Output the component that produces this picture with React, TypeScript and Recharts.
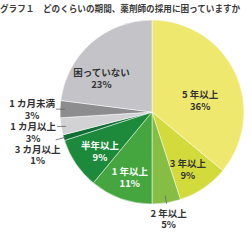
import React from "react";
import { PieChart, Pie, Cell } from "recharts";

const categories = ["5年以上", "3年以上", "2年以上", "1年以上", "半年以上", "3カ月以上", "1カ月以上", "1カ月未満", "困っていない"];
const shares = [36, 9, 5, 11, 9, 1, 3, 3, 23];
const labelTexts = ["5 年以上", "3 年以上", "2 年以上", "1 年以上", "半年以上", "3 カ月以上", "1 カ月以上", "1 カ月未満", "困っていない"];
const title = "グラフ１　どのくらいの期間、薬剤師の採用に困っていますか";

const colors = ["#efe86e", "#d3db3c", "#85bd45", "#45a63f", "#1d8a3b", "#0f6e33", "#d2d2d4", "#8d8d8f", "#c4c3c8"];
const textColors = ["#333", "#333", "#333", "#fff", "#fff", "#333", "#333", "#333", "#333"];

const data = categories.map((name, i) => ({ name, value: shares[i], label: labelTexts[i] }));

const FONT = "'Noto Sans CJK JP', 'Noto Sans', sans-serif";
const RAD = Math.PI / 180;

const placement: any[] = [
  { kind: "in", da: -11, r: 0.54 },
  { kind: "in", da: -2, r: 0.73 },
  { kind: "below", r0: 0.92, r1: 1.01 },
  { kind: "in", da: 1, r: 0.75 },
  { kind: "in", da: 3, r: 0.71 },
  { kind: "diag", r0: 0.98, r1: 1.09 },
  { kind: "side", first: true },
  { kind: "side", first: false },
  { kind: "in", da: 15, r: 0.66 },
];

const TwoLine = ({ x, y, gap, a, b, fill }: any) => (
  <text x={x} y={y} fontFamily={FONT} fontSize={9.5} fontWeight={700} fill={fill} textAnchor="middle" dominantBaseline="central">
    <tspan x={x} y={y}>{a}</tspan>
    <tspan x={x} y={y + gap}>{b}</tspan>
  </text>
);

const renderLabel = (props: any) => {
  const { cx, cy, midAngle, outerRadius, index, payload } = props;
  const p = placement[index];
  const txt = payload.label ?? labelTexts[index];
  const pct = `${shares[index]}%`;
  const fill = textColors[index];
  const pt = (a: number, r: number) => [cx + r * Math.cos(-a * RAD), cy + r * Math.sin(-a * RAD)];
  if (p.kind === "in") {
    const [x, y] = pt(midAngle + p.da, outerRadius * p.r);
    return <TwoLine key={`l${index}`} x={x} y={y - 6} gap={12} a={txt} b={pct} fill={fill} />;
  }
  if (p.kind === "below") {
    const [x0, y0] = pt(midAngle, outerRadius * p.r0);
    const [x1, y1] = pt(midAngle, outerRadius * p.r1);
    return (
      <g key={`l${index}`}>
        <line x1={x0} y1={y0} x2={x1} y2={y1} stroke="#666" strokeWidth={0.8} />
        <TwoLine x={x1 + 2} y={y1 + 9} gap={11.5} a={txt} b={pct} fill={fill} />
      </g>
    );
  }
  if (p.kind === "diag") {
    const [x0, y0] = pt(midAngle, outerRadius * p.r0);
    const [x1, y1] = pt(midAngle, outerRadius * p.r1);
    return (
      <g key={`l${index}`}>
        <line x1={x0} y1={y0} x2={x1} y2={y1} stroke="#666" strokeWidth={0.8} />
        <TwoLine x={x1 - 18} y={y1 + 9} gap={11.5} a={txt} b={pct} fill={fill} />
      </g>
    );
  }
  const [xe, ye] = pt(midAngle, outerRadius);
  const xs = xe - 4;
  const cxText = xs - 24;
  return (
    <g key={`l${index}`}>
      <line x1={xs} y1={ye} x2={xe + 5} y2={ye} stroke="#666" strokeWidth={0.8} />
      <TwoLine x={cxText} y={p.first ? ye : ye - 6} gap={11.5} a={txt} b={pct} fill={fill} />
    </g>
  );
};

export default function App() {
  return (
    <div style={{ position: "absolute", left: 0, top: 0, width: 251, height: 240, background: "#fff" }}>
      <PieChart width={251} height={240} margin={{ top: 0, right: 0, bottom: 0, left: 0 }}>
        <text x={0} y={8} fontFamily={FONT} fontSize={8.6} fontWeight={700} fill="#3a3a3a" dominantBaseline="central">{title}</text>
        <Pie
          data={data}
          dataKey="value"
          nameKey="name"
          cx={152}
          cy={112}
          outerRadius={92}
          startAngle={90}
          endAngle={-270}
          stroke="#fff"
          strokeWidth={0.5}
          label={renderLabel}
          labelLine={false}
          isAnimationActive={false}
        >
          {data.map((d, i) => (
            <Cell key={d.name} fill={colors[i]} />
          ))}
        </Pie>
      </PieChart>
    </div>
  );
}
